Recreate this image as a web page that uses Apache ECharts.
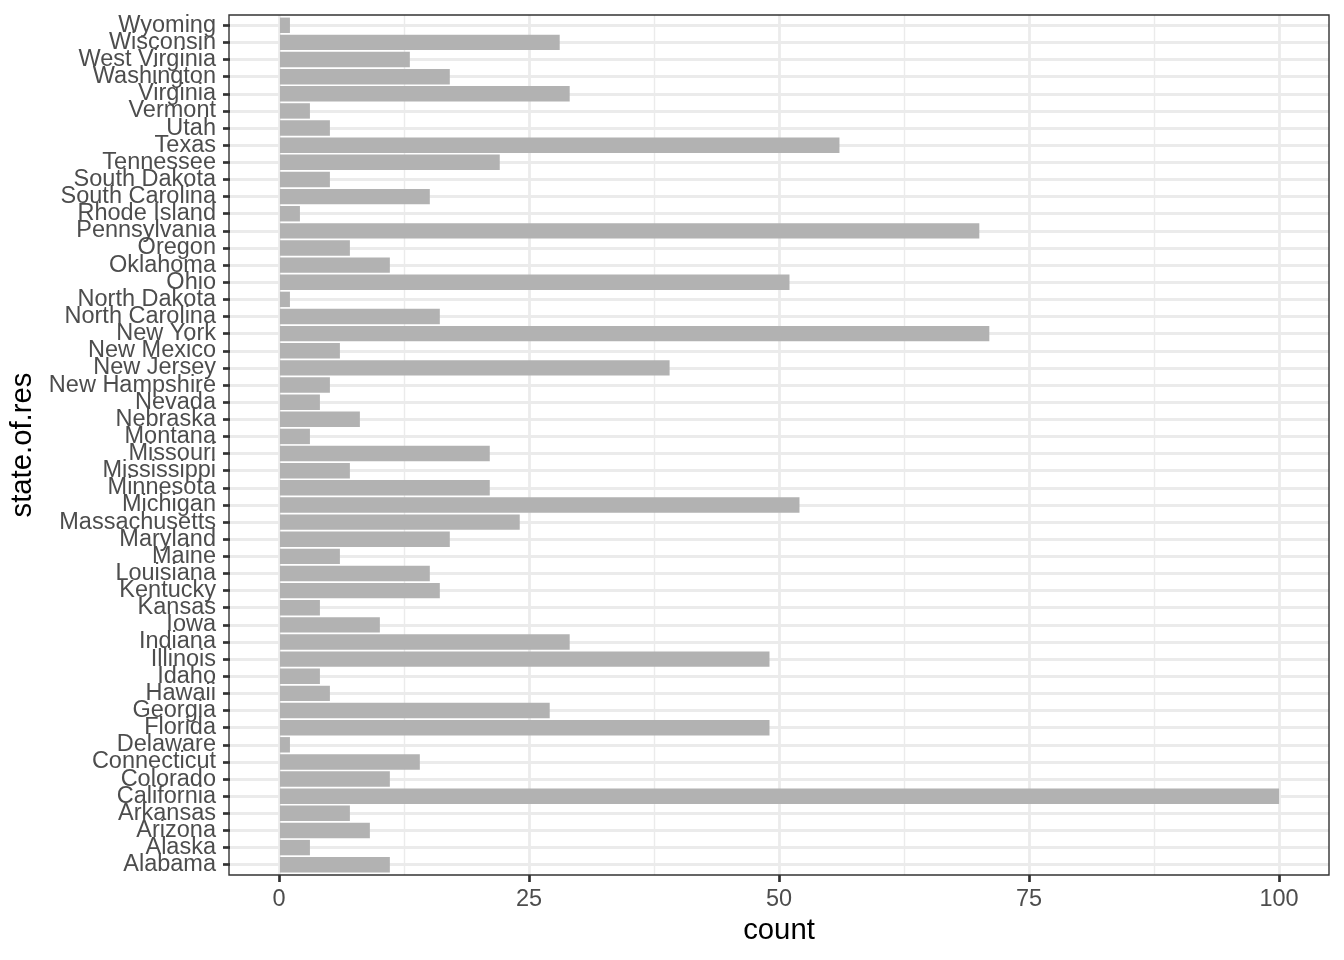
<!DOCTYPE html>
<html>
<head>
<meta charset="utf-8">
<script src="https://cdn.jsdelivr.net/npm/echarts@6/dist/echarts.min.js"></script>
<style>
html,body{margin:0;padding:0;background:#fff;}
#chart{width:1344px;height:960px;}
</style>
</head>
<body>
<div id="chart"></div>
<script>
const states = ['Alabama','Alaska','Arizona','Arkansas','California','Colorado','Connecticut','Delaware','Florida','Georgia','Hawaii','Idaho','Illinois','Indiana','Iowa','Kansas','Kentucky','Louisiana','Maine','Maryland','Massachusetts','Michigan','Minnesota','Mississippi','Missouri','Montana','Nebraska','Nevada','New Hampshire','New Jersey','New Mexico','New York','North Carolina','North Dakota','Ohio','Oklahoma','Oregon','Pennsylvania','Rhode Island','South Carolina','South Dakota','Tennessee','Texas','Utah','Vermont','Virginia','Washington','West Virginia','Wisconsin','Wyoming'];
const counts = [11,3,9,7,100,11,14,1,49,27,5,4,49,29,10,4,16,15,6,17,24,52,21,7,21,3,8,4,5,39,6,71,16,1,51,11,7,70,2,15,5,22,56,5,3,29,17,13,28,1];
const xTicks = [0,25,50,75,100];
const xMinorTicks = [12.5,37.5,62.5,87.5];
const xLabel = 'count';
const yLabel = 'state.of.res';

const FONT = "'Liberation Sans', Arial, Helvetica, sans-serif";
const panel = {left: 229, top: 15, width: 1100, height: 860};
const step = panel.height / (states.length + 0.2);
const inset = 0.1 * step;
const TICK_FS = 23.5;
const TITLE_FS = 29.3;

const chart = echarts.init(document.getElementById('chart'), null, {renderer: 'canvas'});
chart.setOption({
  backgroundColor: '#ffffff',
  animation: false,
  textStyle: {fontFamily: FONT},
  grid: [
    {left: panel.left, top: panel.top, width: panel.width, height: panel.height,
     show: true, borderColor: '#333333', borderWidth: 1.4, backgroundColor: 'transparent', containLabel: false, z: 5},
    {left: panel.left, top: panel.top + inset, width: panel.width, height: panel.height - 2 * inset,
     show: false, containLabel: false}
  ],
  xAxis: [
    {gridIndex: 0, type: 'value', min: -5, max: 105,
     axisLine: {show: false, onZero: false},
     axisTick: {show: true, length: 7, lineStyle: {color: '#333333', width: 2.7}, customValues: xTicks},
     axisLabel: {show: true, customValues: xTicks, margin: 13, color: '#4D4D4D', fontSize: TICK_FS, fontFamily: FONT},
     splitLine: {show: true, lineStyle: {color: '#EBEBEB', width: 2.8}},
     name: xLabel, nameLocation: 'middle', nameGap: 41,
     nameTextStyle: {color: '#000000', fontSize: TITLE_FS, fontFamily: FONT}},
    {gridIndex: 0, type: 'value', min: -5, max: 105, position: 'bottom',
     axisLine: {show: false, onZero: false},
     axisTick: {show: false, customValues: xMinorTicks},
     axisLabel: {show: false, customValues: xMinorTicks},
     splitLine: {show: true, lineStyle: {color: '#EBEBEB', width: 1.4}}},
    {gridIndex: 1, type: 'value', min: -5, max: 105, show: false,
     axisLine: {onZero: false},
     splitLine: {show: false}}
  ],
  yAxis: [
    {gridIndex: 0, type: 'value', show: false, min: 0, max: 1, axisLine: {onZero: false}, splitLine: {show: false}},
    {gridIndex: 1, type: 'category', data: states, boundaryGap: true, position: 'left',
     axisLine: {show: false, onZero: false},
     axisTick: {show: true, alignWithLabel: true, length: 7, lineStyle: {color: '#333333', width: 2.7}},
     axisLabel: {show: true, interval: 0, margin: 14, color: '#4D4D4D', fontSize: TICK_FS, fontFamily: FONT, padding: [2, 0, 0, 0]},
     splitLine: {show: true, alignWithLabel: true, interval: 0, lineStyle: {color: '#EBEBEB', width: 2.8}},
     name: yLabel, nameLocation: 'middle', nameGap: 193, nameRotate: 90,
     nameTextStyle: {color: '#000000', fontSize: TITLE_FS, fontFamily: FONT}}
  ],
  series: [{
    type: 'bar',
    xAxisIndex: 2, yAxisIndex: 1,
    data: counts,
    barWidth: '90%',
    itemStyle: {color: '#B2B2B2'},
    z: 3
  }]
});
</script>
</body>
</html>
